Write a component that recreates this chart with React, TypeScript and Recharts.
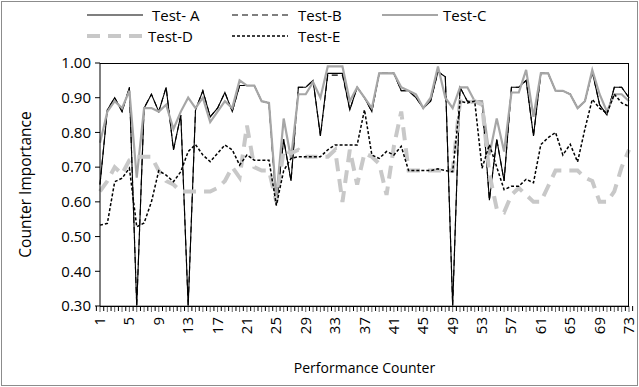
import { LineChart, Line, XAxis, YAxis } from 'recharts';

const counters = [
  1, 2, 3, 4, 5, 6, 7, 8, 9, 10, 11, 12, 13, 14, 15, 16, 17, 18, 19, 20,
  21, 22, 23, 24, 25, 26, 27, 28, 29, 30, 31, 32, 33, 34, 35, 36, 37, 38, 39, 40,
  41, 42, 43, 44, 45, 46, 47, 48, 49, 50, 51, 52, 53, 54, 55, 56, 57, 58, 59, 60,
  61, 62, 63, 64, 65, 66, 67, 68, 69, 70, 71, 72, 73,
];

const labelledCounters = [1, 5, 9, 13, 17, 21, 25, 29, 33, 37, 41, 45, 49, 53, 57, 61, 65, 69, 73];

const testA = [
  0.65, 0.865, 0.9, 0.86, 0.93, 0.3, 0.87, 0.91, 0.86, 0.93, 0.75, 0.85, 0.3, 0.865, 0.92, 0.845, 0.87, 0.915, 0.86, 0.935,
  0.935, 0.935, 0.89, 0.885, 0.59, 0.78, 0.66, 0.93, 0.93, 0.95, 0.79, 0.97, 0.97, 0.97, 0.865, 0.93, 0.9, 0.86, 0.97, 0.97,
  0.97, 0.92, 0.92, 0.9, 0.87, 0.89, 0.975, 0.96, 0.3, 0.93, 0.89, 0.89, 0.89, 0.605, 0.78, 0.66, 0.93, 0.93, 0.95, 0.79,
  0.97, 0.97, 0.92, 0.92, 0.91, 0.87, 0.89, 0.975, 0.88, 0.85, 0.93, 0.93, 0.9,
];

const testB = [
  0.65, 0.865, 0.9, 0.86, 0.93, 0.3, 0.87, 0.91, 0.86, 0.93, 0.75, 0.85, 0.3, 0.865, 0.92, 0.845, 0.87, 0.915, 0.86, 0.935,
  0.935, 0.935, 0.89, 0.885, 0.59, 0.78, 0.66, 0.93, 0.93, 0.95, 0.79, 0.965, 0.965, 0.965, 0.865, 0.93, 0.9, 0.86, 0.97, 0.97,
  0.97, 0.92, 0.92, 0.9, 0.87, 0.89, 0.975, 0.96, 0.3, 0.93, 0.89, 0.89, 0.89, 0.605, 0.78, 0.66, 0.93, 0.93, 0.95, 0.79,
  0.97, 0.97, 0.92, 0.92, 0.91, 0.87, 0.89, 0.975, 0.88, 0.85, 0.93, 0.93, 0.9,
];

const testC = [
  0.77, 0.86, 0.89, 0.87, 0.92, 0.67, 0.87, 0.87, 0.86, 0.88, 0.81, 0.86, 0.9, 0.87, 0.9, 0.83, 0.86, 0.89, 0.87, 0.95,
  0.935, 0.935, 0.89, 0.885, 0.61, 0.84, 0.725, 0.91, 0.91, 0.945, 0.9, 0.99, 0.99, 0.99, 0.89, 0.93, 0.9, 0.87, 0.97, 0.97,
  0.97, 0.93, 0.92, 0.91, 0.87, 0.9, 0.99, 0.9, 0.87, 0.93, 0.93, 0.89, 0.89, 0.735, 0.84, 0.745, 0.915, 0.915, 0.98, 0.845,
  0.97, 0.97, 0.92, 0.92, 0.91, 0.87, 0.89, 0.98, 0.91, 0.86, 0.91, 0.91, 0.89,
];

const testD = [
  0.63, 0.66, 0.7, 0.68, 0.72, 0.73, 0.73, 0.73, 0.69, 0.66, 0.65, 0.63, 0.63, 0.63, 0.63, 0.63, 0.64, 0.66, 0.7, 0.67,
  0.82, 0.7, 0.69, 0.69, 0.6, 0.75, 0.74, 0.75, 0.73, 0.73, 0.73, 0.73, 0.75, 0.6, 0.75, 0.65, 0.74, 0.73, 0.71, 0.62,
  0.76, 0.86, 0.69, 0.69, 0.69, 0.69, 0.69, 0.69, 0.69, 0.89, 0.885, 0.89, 0.88, 0.68, 0.58, 0.57, 0.62, 0.64, 0.62, 0.6,
  0.6, 0.645, 0.69, 0.69, 0.69, 0.69, 0.67, 0.66, 0.6, 0.6, 0.63, 0.7, 0.75,
];

const testE = [
  0.533, 0.538, 0.658, 0.668, 0.697, 0.528, 0.539, 0.6, 0.69, 0.677, 0.658, 0.687, 0.745, 0.765, 0.735, 0.716, 0.74, 0.764, 0.75, 0.706,
  0.735, 0.72, 0.72, 0.72, 0.59, 0.69, 0.725, 0.73, 0.73, 0.73, 0.73, 0.75, 0.764, 0.764, 0.764, 0.764, 0.865, 0.735, 0.725, 0.745,
  0.735, 0.76, 0.69, 0.69, 0.69, 0.69, 0.695, 0.69, 0.687, 0.89, 0.885, 0.89, 0.697, 0.765, 0.7, 0.635, 0.645, 0.645, 0.665, 0.655,
  0.765, 0.785, 0.8, 0.735, 0.766, 0.715, 0.81, 0.895, 0.87, 0.855, 0.91, 0.885, 0.875,
];

const yTicks = [0.3, 0.4, 0.5, 0.6, 0.7, 0.8, 0.9, 1.0];

const series = [
  { key: 'a', name: 'Test- A', values: testA, stroke: '#000000', width: 1.1, dash: undefined as string | undefined },
  { key: 'b', name: 'Test-B', values: testB, stroke: '#000000', width: 1.1, dash: '6 4' },
  { key: 'c', name: 'Test-C', values: testC, stroke: '#a6a6a6', width: 2.2, dash: undefined },
  { key: 'd', name: 'Test-D', values: testD, stroke: '#c8c8c8', width: 4, dash: '13 8' },
  { key: 'e', name: 'Test-E', values: testE, stroke: '#000000', width: 1.5, dash: '3 2' },
];

const data = counters.map((c, i) => {
  const row: any = { counter: c };
  series.forEach((s) => {
    row[s.key] = s.values[i];
  });
  return row;
});

const W = 639;
const H = 387;
const plotTop = 63;
const plotBottom = 306;
const plotLeft = 100;
const plotRight = 10;
const step = (W - plotLeft - plotRight) / counters.length;
const font = "'Open Sans', sans-serif";

// legend slots: [sampleX, textX, rowY]
const legendPos = [
  [87, 152, 15],
  [232, 298, 15],
  [382, 443, 15],
  [87, 148, 36],
  [232, 298, 36],
];

const yTitle = { value: 'Counter Importance', angle: -90, position: 'center', dx: -25, fontSize: 15.5, fontFamily: font, fill: '#000' };
const yTickStyle = { fontSize: 15, fontFamily: font, fill: '#000' };
const fmt = (v: number) => v.toFixed(2);

function renderCounterTick(props: any) {
  const { x, payload, index } = props;
  const show = labelledCounters.includes(Number(payload.value));
  const y = plotBottom;
  const ty = y + 11;
  const tx = x + 5;
  return (
    <g key={index}>
      <line x1={x - step / 2} x2={x - step / 2} y1={y} y2={y + 5} stroke="#000" />
      {index === counters.length - 1 && (
        <line x1={x + step / 2} x2={x + step / 2} y1={y} y2={y + 5} stroke="#000" />
      )}
      {show && (
        <text x={tx} y={ty} transform={`rotate(-90, ${tx}, ${ty})`} textAnchor="end" fontSize={15} fontFamily={font} fill="#000">
          {'' + payload.value}
        </text>
      )}
    </g>
  );
}

export default function App() {
  return (
    <div style={{ position: 'absolute', left: 0, top: 0, width: W, height: H, background: '#fff' }}>
      <div
        style={{
          position: 'absolute',
          left: 1,
          top: 1,
          width: W - 4,
          height: H - 4,
          border: '1px solid #8c8c8c',
        }}
      />
      <div style={{ position: 'absolute', left: 0, top: 0 }}>
        <LineChart width={W} height={H} data={data} margin={{ top: plotTop, right: plotRight, left: 0, bottom: 0 }}>
          <XAxis dataKey="counter" interval={0} height={81} tick={renderCounterTick} />
          <YAxis
            domain={[0.3, 1]}
            ticks={yTicks}
            width={plotLeft}
            tickFormatter={fmt}
            tick={yTickStyle}
            tickSize={5}
            tickMargin={4}
            stroke="#000"
            label={yTitle}
          />
          {series.map((s) => (
            <Line
              key={s.key}
              type="linear"
              dataKey={s.key}
              name={s.name}
              stroke={s.stroke}
              strokeWidth={s.width}
              strokeDasharray={s.dash}
              dot={false}
              activeDot={false}
              isAnimationActive={false}
            />
          ))}
        </LineChart>
      </div>
      <div
        style={{
          position: 'absolute',
          left: plotLeft,
          top: plotTop,
          width: W - plotLeft - plotRight - 1,
          height: plotBottom - plotTop - 1,
          borderTop: '1px solid #000',
          borderRight: '1px solid #000',
          borderBottom: '1px solid #000',
          pointerEvents: 'none',
        }}
      />
      <div
        style={{
          position: 'absolute',
          left: plotLeft,
          width: W - plotLeft - plotRight,
          top: 358,
          textAlign: 'center',
          fontFamily: font,
          fontSize: 14,
          color: '#000',
        }}
      >
        Performance Counter
      </div>
      <svg width={W} height={50} style={{ position: 'absolute', left: 0, top: 0 }}>
        {series.map((s, i) => {
          const [sx, tx, ry] = legendPos[i];
          return (
            <g key={s.key}>
              <line x1={sx} x2={sx + 56} y1={ry} y2={ry} stroke={s.stroke} strokeWidth={s.width} strokeDasharray={s.dash} />
              <text x={tx} y={ry} dominantBaseline="central" fontSize={15} fontFamily={font} fill="#000">
                {s.name}
              </text>
            </g>
          );
        })}
      </svg>
    </div>
  );
}
